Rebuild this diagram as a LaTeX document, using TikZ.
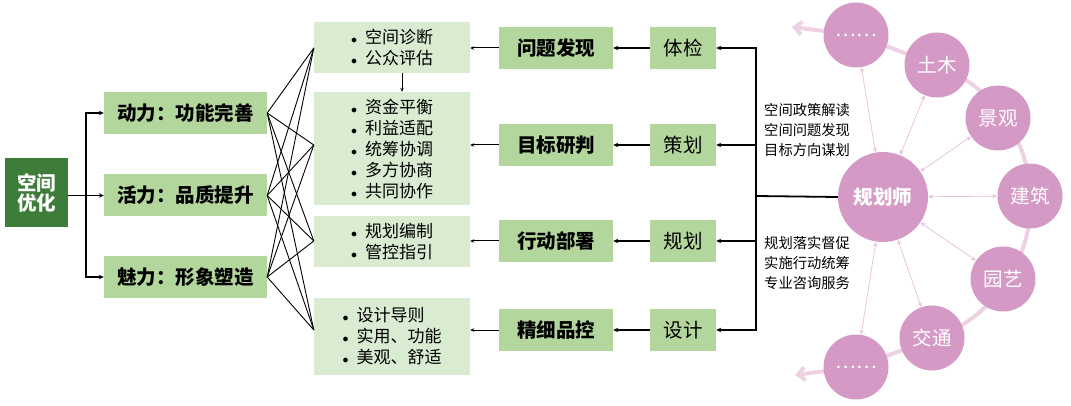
\documentclass[tikz,border=0pt]{standalone}
\usepackage{fontspec}
\setmainfont{Noto Sans CJK SC}
\usetikzlibrary{arrows.meta,backgrounds}
\definecolor{deepgreen}{HTML}{3E7C3A}
\definecolor{leafgreen}{HTML}{B3D69D}
\definecolor{palegreen}{HTML}{D9EBD0}
\definecolor{orchid}{HTML}{D49AC5}
\definecolor{blush}{HTML}{EFD1E4}
\definecolor{thinpink}{HTML}{E7BFDA}
\newcommand\sz[2]{\fontsize{#1}{#2}\selectfont}
\newcommand\itm[1]{\makebox[14pt][l]{$\scriptstyle\bullet$}#1}
\tikzset{
  rootbox/.style={fill=deepgreen, text=white, font=\bfseries\sz{19.5}{20}, minimum width=63pt, minimum height=69pt, align=center, inner sep=0pt},
  goalbox/.style={fill=leafgreen, font=\bfseries\sz{19.5}{22}, minimum width=163pt, minimum height=42pt, inner sep=0pt},
  listbox/.style={fill=palegreen, font=\sz{17}{21}, minimum width=156pt, align=left, inner sep=0pt},
  taskbox/.style={fill=leafgreen, font=\bfseries\sz{19.5}{22}, minimum width=114pt, minimum height=42pt, inner sep=0pt},
  stagebox/.style={fill=leafgreen, font=\sz{19.5}{22}, minimum width=66pt, minimum height=42pt, inner sep=0pt},
  hub/.style={circle, fill=orchid, text=white, font=\bfseries\sz{19.5}{22}, minimum size=90pt, inner sep=0pt},
  field/.style={circle, fill=orchid, text=white, font=\sz{19.5}{22}, minimum size=65pt, inner sep=0pt},
  note/.style={anchor=west, align=left, font=\sz{14.3}{20}, inner sep=0pt},
  link/.style={-{Stealth[length=5pt,width=4.5pt]}, line width=1.4pt},
  feed/.style={-{Stealth[length=4pt,width=3.5pt]}, line width=1pt},
  cross/.style={line width=0.9pt},
  spoke/.style={{Stealth[length=5pt,width=4pt]}-{Stealth[length=5pt,width=4pt]}, draw=thinpink, line width=0.7pt},
  trail/.style={draw=blush, line width=4pt, line cap=round}
}
\begin{document}
\begin{tikzpicture}[x=1pt,y=1pt]
\useasboundingbox (0,0) rectangle (1071,-406);
\node[rootbox] (opt) at (36.5,-193) {空间\\优化};
\node[goalbox] (dl) at (185.5,-113) {动力：功能完善};
\node[goalbox] (hl) at (185.5,-195.5) {活力：品质提升};
\node[goalbox] (ml) at (185.5,-277) {魅力：形象塑造};
\node[listbox, minimum height=51pt] (p1) at (392,-47.5) {\itm{空间诊断}\\\itm{公众评估}};
\node[listbox, minimum height=113pt] (p2) at (392,-148.5) {\itm{资金平衡}\\\itm{利益适配}\\\itm{统筹协调}\\\itm{多方协商}\\\itm{共同协作}};
\node[listbox, minimum height=51pt] (p3) at (392,-241.5) {\itm{规划编制}\\\itm{管控指引}};
\node[listbox, minimum height=77pt] (p4) at (392,-336.5) {\itm{设计导则}\\\itm{实用、功能}\\\itm{美观、舒适}};
\foreach \yy/\task/\stage [count=\i] in {48/问题发现/体检, 145/目标研判/策划, 241/行动部署/规划, 330/精细品控/设计}{
  \node[taskbox] (q\i) at (556,-\yy) {\task};
  \node[stagebox] (r\i) at (683,-\yy) {\stage};
  \draw[link] (r\i.west) -- (q\i.east);
  \draw[feed] (q\i.west) -- (q\i.west -| p\i.east);
}
\coordinate (lb) at (86,-195.5);
\draw[link] (opt.east |- hl.west) -- (hl.west);
\draw[link] (lb) |- (dl.west);
\draw[link] (lb) |- (ml.west);
\foreach \g in {dl,hl,ml}
  \foreach \i in {1,...,4}
    \draw[cross] (\g.east) -- (q\i.west -| p\i.west);
\draw[feed] ([xshift=10pt]p1.south) -- ([xshift=10pt]p1.south |- p2.north);
\node[hub] (plan) at (883,-197) {规划师};
\node[field] (e1) at (856,-35) {……};
\node[field] (tm) at (937,-65) {土木};
\node[field] (jg) at (998,-118) {景观};
\node[field] (jz) at (1030,-196) {建筑};
\node[field] (yy) at (1003,-279) {园艺};
\node[field] (jt) at (932,-338) {交通};
\node[field] (e2) at (856,-367) {……};
\coordinate (rb) at (756,-196);
\draw[line width=1.8pt] (plan.west) -- (rb);
\foreach \i in {1,...,4}
  \draw[link] (rb) |- (r\i.east);
\node[note] (n1) at (764,-130) {空间政策解读\\空间问题发现\\目标方向谋划};
\node[note] (n2) at (764,-263) {规划落实督促\\实施行动统筹\\专业咨询服务};
\foreach \f in {e1,tm,jg,jz,yy,jt,e2}
  \draw[spoke] (plan) -- (\f);
\coordinate (ta) at (792,-27);
\coordinate (tb) at (795,-375);
\begin{scope}[on background layer]
\draw[trail] (e1.center) -- (tm.center) arc[start angle=69, end angle=-71, radius=146] -- (e2.center);
\draw[trail, -{Straight Barb[length=7pt,width=13pt]}] (e1.center) -- (ta);
\draw[trail, -{Straight Barb[length=7pt,width=13pt]}] (e2.center) -- (tb);
\end{scope}
\end{tikzpicture}
\end{document}
